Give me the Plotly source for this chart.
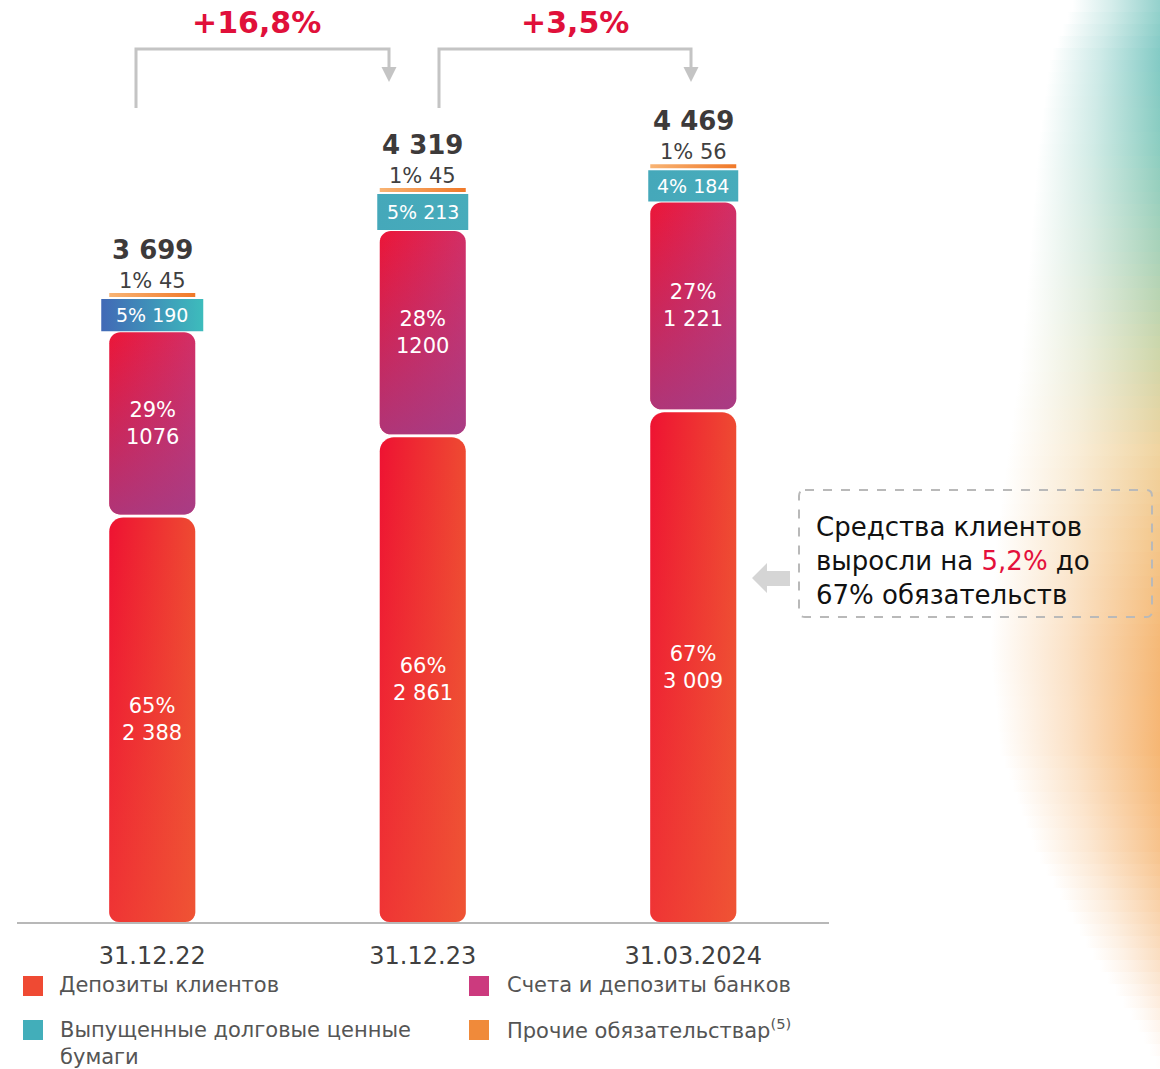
import numpy as np
import plotly.graph_objects as go

# ---------------- data ----------------
CATEGORIES = ["31.12.22", "31.12.23", "31.03.2024"]
CLIENT_DEPOSITS = [2388, 2861, 3009]
BANK_ACCOUNTS = [1076, 1200, 1221]
DEBT_SECURITIES = [190, 213, 184]
OTHER_LIABILITIES = [45, 45, 56]
TOTALS = [3699, 4319, 4469]

DEP_PCT = ["65%", "66%", "67%"]
BANK_PCT = ["29%", "28%", "27%"]
DEBT_PCT = ["5%", "5%", "4%"]
OTHER_PCT = ["1%", "1%", "1%"]
DEP_LBL = ["2 388", "2 861", "3 009"]
BANK_LBL = ["1076", "1200", "1 221"]
DEBT_LBL = ["190", "213", "184"]
OTHER_LBL = ["45", "45", "56"]
TOTAL_LBL = ["3 699", "4 319", "4 469"]
GROWTH_LBL = ["+16,8%", "+3,5%"]

SERIES_NAMES = ["Депозиты клиентов", "Счета и депозиты банков",
                "Выпущенные долговые ценные<br>бумаги",
                "Прочие обязательствар<sup>(5)</sup>"]

# ---------------- geometry / style ----------------
W, H = 1160, 1069
X0_PX, X1_PX = 17.0, 828.5
PXX = (X1_PX - X0_PX) / 3.0          # px per category unit
BASE_PX = 922.0
YMAX = 5443.0
PXY = BASE_PX / YMAX                  # px per value unit
FONT = "DejaVu Sans"

BAR_W = 86
TEAL_W = [102, 91, 90]
GAP_BANK = 3 / PXY
GAP_DEBT = 1 / PXY
GAP_OTHER = 2 / PXY
OTHER_THICK = 4 / PXY

DEP_H = [[0, "#ee1232"], [1, "#ee4a32"]]
DEP_V = [[0, "rgba(240,95,55,0.45)"], [1, "rgba(240,95,55,0)"]]
BANK_H = [[0, "#ec1638"], [1, "#d22f66"]]
BANK_V = [[0, "rgba(150,66,146,0.7)"], [1, "rgba(150,66,146,0)"]]
TEAL_CS = [[[0, "#4169b6"], [1, "#3dbcbc"]],
           [[0, "#45a8ba"], [1, "#48acbb"]],
           [[0, "#45a8ba"], [1, "#48acbb"]]]
OTHER_CS = [[0, "#f8b474"], [1, "#f07828"]]


def rrect(xc, wpx, y0, y1, rt, rb, n=10):
    hw = wpx / 2 / PXX
    xs, ys = [], []
    corners = [
        (xc - hw + rb / PXX, y0 + rb / PXY, rb, 180, 270),
        (xc + hw - rb / PXX, y0 + rb / PXY, rb, 270, 360),
        (xc + hw - rt / PXX, y1 - rt / PXY, rt, 0, 90),
        (xc - hw + rt / PXX, y1 - rt / PXY, rt, 90, 180),
    ]
    for cx, cy, r, a0, a1 in corners:
        t = np.radians(np.linspace(a0, a1, n))
        xs.extend(cx + (r / PXX) * np.cos(t))
        ys.extend(cy + (r / PXY) * np.sin(t))
    xs.append(xs[0]); ys.append(ys[0])
    return xs, ys


def shape_trace(xs, ys, gtype, cs, xa="x", ya="y"):
    return go.Scatter(x=xs, y=ys, mode="none", fill="toself",
                      fillgradient=dict(type=gtype, colorscale=cs),
                      hoverinfo="skip", showlegend=False, xaxis=xa, yaxis=ya)


fig = go.Figure()
annotations = []
shapes = []

# ---------------- background decoration (pixel overlay axes) ----------------
DECO = [  # y px, fade start x px, colour
    (0, 1075, (150, 210, 205)),
    (60, 1050, (130, 202, 196)),
    (150, 1038, (140, 205, 192)),
    (250, 1030, (168, 210, 185)),
    (350, 1022, (205, 214, 170)),
    (450, 1008, (240, 212, 160)),
    (550, 995, (244, 196, 135)),
    (650, 990, (245, 184, 118)),
    (750, 1000, (246, 182, 115)),
    (850, 1035, (247, 195, 140)),
    (950, 1090, (250, 220, 190)),
    (1030, 1140, (254, 245, 238)),
    (1069, 1158, (255, 255, 255)),
]
dy = np.array([d[0] for d in DECO], float)
dx = np.array([d[1] for d in DECO], float)
dc = np.array([d[2] for d in DECO], float)
step = 12
for yb in range(0, H, step):
    ym = yb + step / 2
    xs0 = float(np.interp(ym, dy, dx))
    col = [int(round(np.interp(ym, dy, dc[:, k]))) for k in range(3)]
    c = "%d,%d,%d" % tuple(col)
    cs = [[0, "rgba(%s,0)" % c], [0.45, "rgba(%s,0.4)" % c], [1, "rgba(%s,1)" % c]]
    fig.add_trace(shape_trace([xs0, W, W, xs0, xs0],
                              [yb, yb, yb + step, yb + step, yb],
                              "horizontal", cs, "x2", "y2"))

# ---------------- stacked columns ----------------
for i in range(len(CATEGORIES)):
    d = CLIENT_DEPOSITS[i]
    b = BANK_ACCOUNTS[i]
    t = DEBT_SECURITIES[i]
    bank0 = d + GAP_BANK
    bank1 = bank0 + b
    teal0 = bank1 + GAP_DEBT
    teal1 = teal0 + t
    oth0 = teal1 + GAP_OTHER
    oth1 = oth0 + OTHER_THICK

    xs, ys = rrect(i, BAR_W, 0, d, 14, 10)
    fig.add_trace(shape_trace(xs, ys, "horizontal", DEP_H))
    fig.add_trace(shape_trace(xs, ys, "vertical", DEP_V))

    xs, ys = rrect(i, BAR_W, bank0, bank1, 11, 11)
    fig.add_trace(shape_trace(xs, ys, "horizontal", BANK_H))
    fig.add_trace(shape_trace(xs, ys, "vertical", BANK_V))

    xs, ys = rrect(i, TEAL_W[i], teal0, teal1, 0, 0, n=2)
    fig.add_trace(shape_trace(xs, ys, "horizontal", TEAL_CS[i]))

    xs, ys = rrect(i, BAR_W, oth0, oth1, 0, 0, n=2)
    fig.add_trace(shape_trace(xs, ys, "horizontal", OTHER_CS))

    white = dict(family=FONT, size=21, color="white")
    annotations.append(dict(x=i, y=d / 2, xref="x", yref="y", showarrow=False,
                            text=f"{DEP_PCT[i]}<br>{DEP_LBL[i]}", font=white))
    annotations.append(dict(x=i, y=(bank0 + bank1) / 2, xref="x", yref="y", showarrow=False,
                            text=f"{BANK_PCT[i]}<br>{BANK_LBL[i]}", font=white))
    annotations.append(dict(x=i, y=(teal0 + teal1) / 2, xref="x", yref="y", showarrow=False,
                            text=f"{DEBT_PCT[i]} {DEBT_LBL[i]}",
                            font=dict(family=FONT, size=19, color="white")))
    annotations.append(dict(x=i, y=(oth0 + oth1) / 2, xref="x", yref="y", showarrow=False,
                            yshift=14, text=f"{OTHER_PCT[i]} {OTHER_LBL[i]}",
                            font=dict(family=FONT, size=21, color="#404040")))
    annotations.append(dict(x=i, y=(oth0 + oth1) / 2, xref="x", yref="y", showarrow=False,
                            yshift=45, text=f"<b>{TOTAL_LBL[i]}</b>",
                            font=dict(family=FONT, size=26, color="#3d3a3a")))

# ---------------- growth brackets ----------------
BRACKETS = [  # left x, right (arrow) x, label centre x  (px)
    (136, 389, 256),
    (439, 691, 575),
]
GRAY = "#c4c4c4"
for k, (xl, xr, xt) in enumerate(BRACKETS):
    shapes.append(dict(type="path", xref="x2", yref="y2",
                       path=f"M{xl},108 L{xl},49 L{xr},49 L{xr},70",
                       line=dict(color=GRAY, width=3)))
    shapes.append(dict(type="path", xref="x2", yref="y2",
                       path=f"M{xr-7.5},67 L{xr+7.5},67 L{xr},82 Z",
                       fillcolor=GRAY, line=dict(width=0)))
    annotations.append(dict(x=xt, y=22, xref="x2", yref="y2", showarrow=False,
                            text=f"<b>{GROWTH_LBL[k]}</b>",
                            font=dict(family=FONT, size=30, color="#e0103a")))

# ---------------- callout ----------------
shapes.append(dict(type="path", xref="x2", yref="y2",
                   path="M805,490 H1146 Q1152,490 1152,496 V611 Q1152,617 1146,617 "
                        "H805 Q799,617 799,611 V496 Q799,490 805,490 Z",
                   line=dict(color="#b9b9b9", width=2, dash="dash")))
shapes.append(dict(type="path", xref="x2", yref="y2",
                   path="M752,578 L767,563 L767,571 L790,571 L790,586 L767,586 L767,593 Z",
                   fillcolor="#d5d5d5", line=dict(width=0)))
annotations.append(dict(x=814, y=561, xref="x2", yref="y2", showarrow=False,
                        xanchor="left", yanchor="middle", align="left",
                        text="Средства клиентов<br>выросли на "
                             "<span style='color:#e4103c'>5,2%</span> до<br>67% обязательств",
                        font=dict(family=FONT, size=26, color="#111111")))

# ---------------- legend ----------------
LEG_COLORS = ["#ef4a33", "#cc3a7e", "#42aeba", "#f08a3a"]
LEG_POS = [(23, 976, 57, 985), (469, 976, 505, 985),
           (23, 1020, 58, 1016), (469, 1020, 505, 1029)]
for k, (sx, sy, tx, ty) in enumerate(LEG_POS):
    shapes.append(dict(type="rect", xref="x2", yref="y2", x0=sx, x1=sx + 20,
                       y0=sy, y1=sy + 20, fillcolor=LEG_COLORS[k], line=dict(width=0)))
    multi = "<br>" in SERIES_NAMES[k]
    annotations.append(dict(x=tx, y=ty, xref="x2", yref="y2", showarrow=False,
                            xanchor="left", yanchor="top" if multi else "middle",
                            align="left", text=SERIES_NAMES[k],
                            font=dict(family=FONT, size=21, color="#555555")))

fig.update_layout(
    width=W, height=H, margin=dict(l=0, r=0, t=0, b=0, pad=0),
    paper_bgcolor="white", plot_bgcolor="rgba(0,0,0,0)",
    showlegend=False, font=dict(family=FONT),
    xaxis=dict(domain=[X0_PX / W, X1_PX / W], range=[-0.5, 2.5],
               tickmode="array", tickvals=list(range(len(CATEGORIES))),
               ticktext=CATEGORIES, ticks="", ticklabelstandoff=11,
               tickfont=dict(family=FONT, size=24, color="#404040"),
               showgrid=False, zeroline=False, showline=True,
               linecolor="#b8b8b8", linewidth=2, fixedrange=True, anchor="y"),
    yaxis=dict(domain=[(H - BASE_PX) / H, 1], range=[0, YMAX], visible=False,
               showgrid=False, zeroline=False, fixedrange=True, anchor="x"),
    xaxis2=dict(domain=[0, 1], range=[0, W], visible=False, anchor="y2", fixedrange=True),
    yaxis2=dict(domain=[0, 1], range=[H, 0], visible=False, anchor="x2", fixedrange=True),
    shapes=shapes, annotations=annotations,
)

fig.write_html("out.html", config={"displayModeBar": False},
               post_script="document.body.style.margin='0';document.body.style.overflow='hidden';")
